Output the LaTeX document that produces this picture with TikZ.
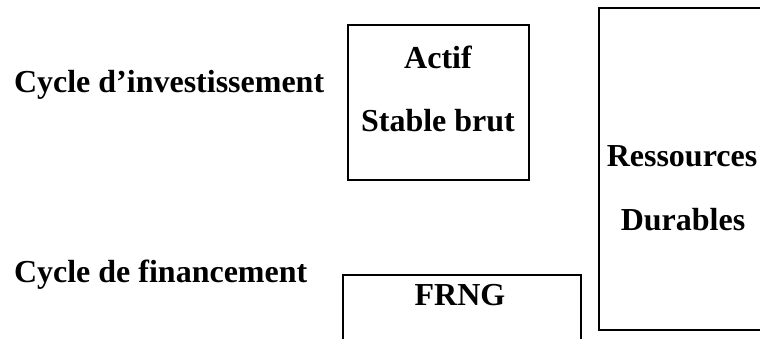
\documentclass[tikz,border=0pt]{standalone}
\usepackage{fontspec}
\setmainfont{Liberation Serif}
\begin{document}
\begin{tikzpicture}[x=1bp,y=-1bp,line width=2bp,font=\fontsize{32bp}{38bp}\selectfont\bfseries]
	\tikzset{box/.style={draw,inner sep=0pt,anchor=north west},
		lbl/.style={anchor=base,inner sep=0pt}}
	\useasboundingbox (0,0) rectangle (760,338);
	\clip (0,0) rectangle (760,338);
	% boxes
	\node[box,minimum width=181bp,minimum height=155bp] (actif) at (347,24) {};
	\node[box,minimum width=200bp,minimum height=322bp] (ress) at (598,7) {};
	\node[box,minimum width=238bp,minimum height=100bp] (frng) at (342,274) {};
	% texts
	\node[lbl,anchor=base west] (invest) at (13,92) {Cycle d’investissement};
	\node[lbl,anchor=base west] (finance) at (13,282) {Cycle de financement};
	\node[lbl] (actifA) at (438,68) {Actif};
	\node[lbl] (actifB) at (438,131) {Stable brut};
	\node[lbl] (ressA) at (682,166) {Ressources};
	\node[lbl] (ressB) at (683,230) {Durables};
	\node[lbl] (frngA) at (460,305) {FRNG};
\end{tikzpicture}
\end{document}
